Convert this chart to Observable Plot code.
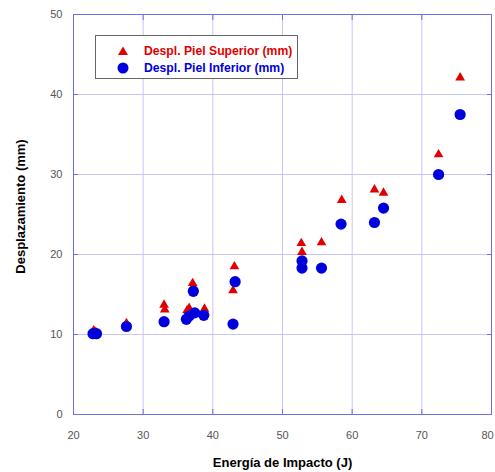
<!DOCTYPE html>
<html>
<head>
<meta charset="utf-8">
<script src="https://cdn.jsdelivr.net/npm/d3@7"></script>
<script src="https://cdn.jsdelivr.net/npm/@observablehq/plot@0.6"></script>
<style>
  body { margin: 0; background: #fff; font-family: "Liberation Sans", Arial, sans-serif; }
  #wrap { position: relative; width: 495px; height: 472px; }
  #legend { position: absolute; left: 95px; top: 35px; width: 203px; height: 44px;
    border: 1px solid #666; background: #fff; box-sizing: border-box; }
  .row { position: absolute; left: 0; height: 16px; display: flex; align-items: center; font-size: 12.2px; font-weight: bold; white-space: nowrap; }
  .row svg { position: absolute; left: 21px; }
  .row span { position: absolute; left: 48px; }
</style>
</head>
<body>
<div id="wrap"></div>
<script>
// ---- data ----
const energiaSup   = [22.9, 23.2, 27.6, 33.0, 33.1, 36.3, 36.6, 37.1, 37.2, 38.8, 42.9, 43.1, 52.7, 52.8, 55.6, 58.5, 63.2, 64.5, 72.4, 75.5];
const pielSuperior = [10.5, 10.3, 11.4, 13.7, 13.1, 13.0, 13.3, 16.4, 16.0, 13.2, 15.5, 18.5, 21.4, 20.3, 21.5, 26.8, 28.1, 27.7, 32.5, 42.1];
const energiaInf   = [22.8, 23.3, 27.6, 33.0, 36.2, 36.6, 37.4, 37.2, 38.7, 42.9, 43.2, 52.8, 52.8, 55.6, 58.4, 63.2, 64.5, 72.4, 75.5];
const pielInferior = [10.1, 10.1, 11.0, 11.6, 11.9, 12.3, 12.7, 15.4, 12.4, 11.3, 16.6, 19.2, 18.3, 18.3, 23.8, 24.0, 25.8, 30.0, 37.5];
const xTicks = [20, 30, 40, 50, 60, 70, 80];
const yTicks = [0, 10, 20, 30, 40, 50];
const seriesNames = ["Despl. Piel Superior (mm)", "Despl. Piel Inferior (mm)"];
const xTitle = "Energía de Impacto (J)";
const yTitle = "Desplazamiento (mm)";

const colSup = "#e00000", colInf = "#0000dd";
const frameColor = "#6e6ee6", gridColor = "#c6c6f4";

const supData = energiaSup.map((x, i) => ({x, y: pielSuperior[i]}));
const infData = energiaInf.map((x, i) => ({x, y: pielInferior[i]}));
const xLast = xTicks[xTicks.length - 1];

const chart = Plot.plot({
  width: 495, height: 472,
  marginLeft: 73, marginRight: 4, marginTop: 14, marginBottom: 58,
  style: { fontFamily: "Liberation Sans, Arial, sans-serif", background: "#fff" },
  x: { domain: [20, 80] },
  y: { domain: [0, 50] },
  marks: [
    Plot.gridX(xTicks, { stroke: gridColor, strokeOpacity: 1 }),
    Plot.gridY(yTicks, { stroke: gridColor, strokeOpacity: 1 }),
    Plot.axisX(xTicks.filter(t => t !== xLast), { anchor: "bottom", tickSize: 0, tickPadding: 17, fill: "#555", fontSize: 11, label: null }),
    Plot.axisX([xLast], { anchor: "bottom", tickSize: 0, tickPadding: 17, fill: "#555", fontSize: 11, label: null, dx: -4 }),
    Plot.axisY(yTicks, { anchor: "left", tickSize: 0, tickPadding: 11, fill: "#555", fontSize: 11, label: null }),
    Plot.axisX(xTicks, { anchor: "bottom", tickSize: -5, tickFormat: () => "", stroke: frameColor, label: null }),
    Plot.axisX(xTicks, { anchor: "top", tickSize: -5, tickFormat: () => "", stroke: frameColor, label: null }),
    Plot.axisY(yTicks, { anchor: "left", tickSize: -5, tickFormat: () => "", stroke: frameColor, label: null }),
    Plot.axisY(yTicks, { anchor: "right", tickSize: -5, tickFormat: () => "", stroke: frameColor, label: null }),
    Plot.frame({ stroke: frameColor }),
    Plot.dot(supData, { x: "x", y: "y", symbol: "triangle", r: 3.6, fill: colSup }),
    Plot.dot(infData, { x: "x", y: "y", symbol: "circle", r: 5.6, fill: colInf }),
    Plot.text([xTitle], { frameAnchor: "bottom", textAnchor: "middle", dy: 52, fontWeight: "bold", fontSize: 13, fill: "#000" }),
    Plot.text([yTitle], { frameAnchor: "left", textAnchor: "middle", dx: -53, dy: -8, rotate: -90, fontWeight: "bold", fontSize: 13, fill: "#000" })
  ]
});

const wrap = document.getElementById("wrap");
wrap.appendChild(chart);

const legend = document.createElement("div");
legend.id = "legend";
const symbols = [
  `<svg width="12" height="12" viewBox="-6 -6 12 12"><path d="M0,-4.5L5,4L-5,4Z" fill="${colSup}"/></svg>`,
  `<svg width="12" height="12" viewBox="-6 -6 12 12"><circle r="5.5" fill="${colInf}"/></svg>`
];
const colors = [colSup, colInf];
seriesNames.forEach((name, i) => {
  const row = document.createElement("div");
  row.className = "row";
  row.style.top = (7 + i * 17) + "px";
  row.innerHTML = symbols[i] + `<span style="color:${colors[i]}">${name}</span>`;
  legend.appendChild(row);
});
wrap.appendChild(legend);
</script>
</body>
</html>
